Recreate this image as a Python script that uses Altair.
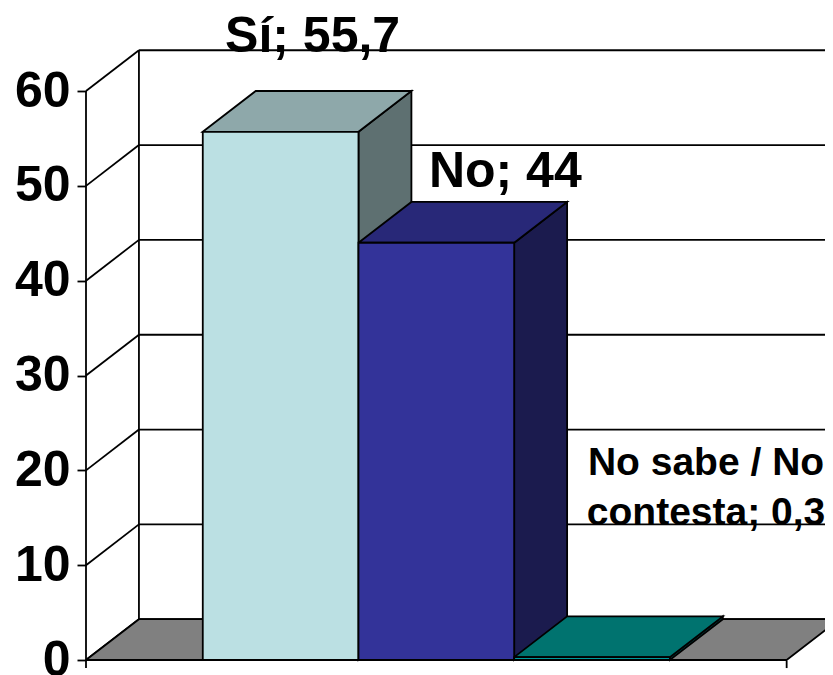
import altair as alt
import pandas as pd

categories = ["Sí", "No", "No sabe / No contesta"]
values = [55.7, 44, 0.3]
front_colors = ["#BBE0E3", "#333399", "#009999"]
top_colors = ["#8EA8AA", "#282878", "#00736F"]
side_colors = ["#5E7071", "#1B1B4E", "#004D4D"]
tick_values = [0, 10, 20, 30, 40, 50, 60]

DX, DY = 0.34, 4.3      # 3-D depth in bar widths / value units
GAP, FLOOR = 0.75, 4.5  # empty floor before the bars, floor length
XMAX, YMAX = 739 / 155.7, 652 / 9.483

x_s = alt.Scale(domain=[0, XMAX], nice=False, zero=False)
y_s = alt.Scale(domain=[0, YMAX], nice=False, zero=False)
LW = 1.8
X = alt.X("x:Q", scale=x_s, axis=None)
Y_plain = alt.Y("y:Q", scale=y_s, title=None, axis=alt.Axis(
    values=tick_values, domain=False, grid=False, tickSize=9, tickColor="black",
    tickWidth=LW, labelFont="Liberation Sans", labelFontWeight="bold",
    labelFontSize=50, labelColor="black", labelPadding=7, labelFlush=False,
    labelOverlap=False, labelBound=False))

bars, polys, labels = [], [], []
for i, (c, v) in enumerate(zip(categories, values)):
    x0, x1 = GAP + i, GAP + i + 1
    bars.append(dict(x=x0, x2=x1, y=0, y2=v, fill=front_colors[i]))
    for px, py, py2 in [(x1, v, 0), (x1 + DX, v + DY, DY)]:
        polys.append(dict(x=px, y=py, y2=py2, face=f"{i}-side", fill=side_colors[i]))
    for px, py, py2 in [(x0, v, v), (x0 + DX, v + DY, v), (x1, v + DY, v), (x1 + DX, v + DY, v + DY)]:
        polys.append(dict(x=px, y=py, y2=py2, face=f"{i}-top", fill=top_colors[i]))
    text = f"{c}; {str(v).replace('.', ',')}".replace("No contesta", "No\ncontesta")
    labels.append(dict(x=(x0 + x1) / 2, y=v, label=text))

floor = pd.DataFrame([
    dict(x=0, y=0, y2=0), dict(x=DX, y=DY, y2=0),
    dict(x=FLOOR, y=DY, y2=0), dict(x=FLOOR + DX, y=DY, y2=DY),
])
back = pd.DataFrame([dict(x=DX, x2=XMAX, y=t + DY, y2=t + DY) for t in tick_values])
wall = pd.DataFrame([dict(x=0, x2=DX, y=t, y2=t + DY) for t in tick_values])
frame = pd.DataFrame([
    dict(x=DX, x2=DX, y=DY, y2=60 + DY),
    dict(x=0, x2=0, y=-0.85, y2=60),
    dict(x=0, x2=FLOOR, y=0, y2=0),
    dict(x=FLOOR, x2=FLOOR, y=-0.85, y2=0),
])

def rules(df):
    return alt.Chart(df).mark_rule(color="black", strokeWidth=LW).encode(
        x=X, x2="x2:Q", y=Y_plain, y2="y2:Q")

floor_layer = alt.Chart(floor).mark_area(
    color="#808080", stroke="black", strokeWidth=LW, clip=True, orient="vertical"
).encode(x=X, y=Y_plain, y2="y2:Q")

poly_layer = alt.Chart(pd.DataFrame(polys)).mark_area(
    stroke="black", strokeWidth=LW, orient="vertical", opacity=1
).encode(x=X, y=Y_plain, y2="y2:Q", detail="face:N", fill=alt.Fill("fill:N", scale=None))

bar_layer = alt.Chart(pd.DataFrame(bars)).mark_rect(stroke="black", strokeWidth=LW).encode(
    x=X, x2="x2:Q", y=Y_plain, y2="y2:Q", fill=alt.Fill("fill:N", scale=None))

offsets = [(32, -95, 50), (69, -71, 50), (114, -194, 39)]
label_layers = [
    alt.Chart(pd.DataFrame([labels[i]])).mark_text(
        font="Liberation Sans", fontWeight="bold", fontSize=fs, color="black",
        lineBreak="\n", lineHeight=50, dx=dx, dy=dy, align="center", baseline="middle",
    ).encode(x=X, y=Y_plain, text="label:N")
    for i, (dx, dy, fs) in enumerate(offsets)
]

chart = alt.layer(
    rules(back), rules(wall), floor_layer, rules(frame),
    poly_layer, bar_layer, *label_layers
).properties(
    width=739, height=652,
    padding={"left": 78, "top": 0, "right": 0, "bottom": 15},
    autosize=alt.AutoSizeParams(type="none"),
).configure_view(strokeWidth=0)

chart.save("out.html", embed_options={"renderer": "svg", "actions": False})
